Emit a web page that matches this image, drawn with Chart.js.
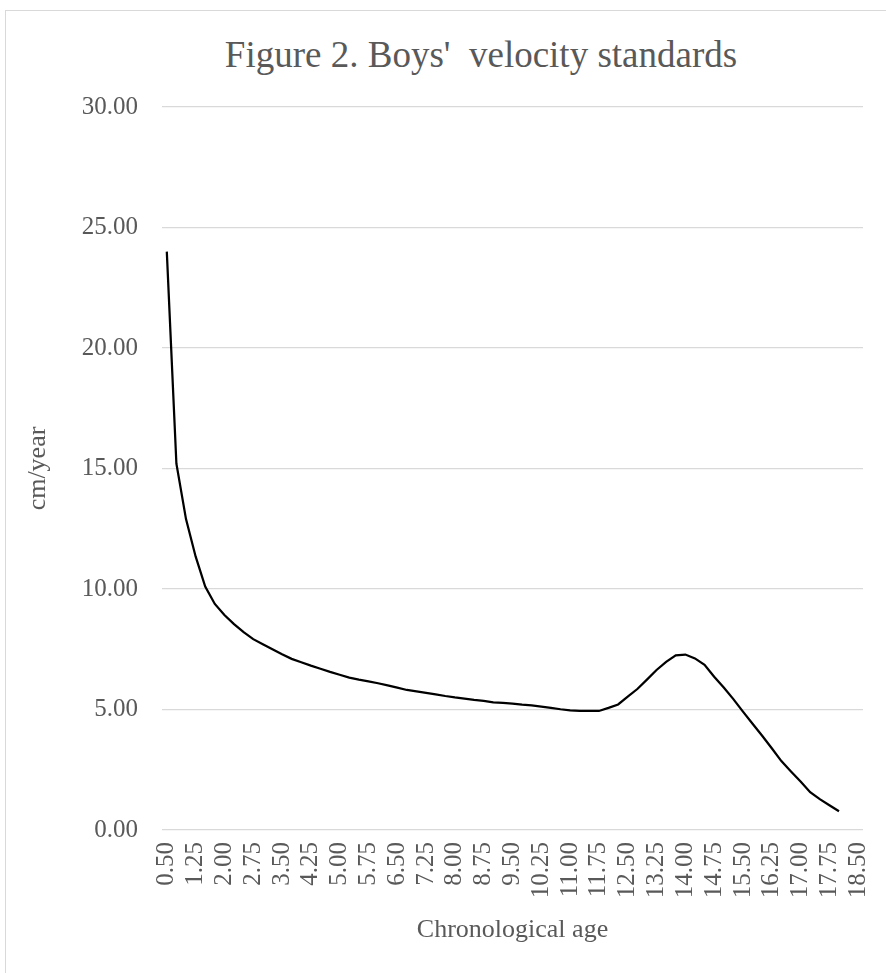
<!DOCTYPE html>
<html>
<head>
<meta charset="utf-8">
<title>Figure 2. Boys' velocity standards</title>
<script src="https://cdn.jsdelivr.net/npm/chart.js@4.4.1/dist/chart.umd.min.js"></script>
<style>
  html, body { margin: 0; padding: 0; background: #fff; }
  #wrap { position: relative; width: 886px; height: 973px; overflow: hidden; }
  #frame { position: absolute; left: 5px; top: 10px; width: 920px; height: 1000px;
           border: 1px solid #d9d9d9; box-sizing: border-box; }
  #chartTitle { position: absolute; left: 0; top: 33px; width: 962px; text-align: center;
                font-family: 'Liberation Serif', 'Times New Roman', serif; font-size: 37px;
                line-height: 1.2; color: #595959; white-space: pre; }
  #velocityChart { position: absolute; left: 0; top: 0; }
</style>
</head>
<body>
<div id="wrap">
  <div id="frame"></div>
  <div id="chartTitle">Figure 2. Boys'  velocity standards</div>
  <canvas id="velocityChart" width="886" height="973"></canvas>
</div>
<script>
// Chronological age categories (years)
var ages = [
  '0.50', '0.75', '1.00', '1.25', '1.50', '1.75', '2.00', '2.25', '2.50', '2.75',
  '3.00', '3.25', '3.50', '3.75', '4.00', '4.25', '4.50', '4.75', '5.00', '5.25',
  '5.50', '5.75', '6.00', '6.25', '6.50', '6.75', '7.00', '7.25', '7.50', '7.75',
  '8.00', '8.25', '8.50', '8.75', '9.00', '9.25', '9.50', '9.75', '10.00', '10.25',
  '10.50', '10.75', '11.00', '11.25', '11.50', '11.75', '12.00', '12.25', '12.50', '12.75',
  '13.00', '13.25', '13.50', '13.75', '14.00', '14.25', '14.50', '14.75', '15.00', '15.25',
  '15.50', '15.75', '16.00', '16.25', '16.50', '16.75', '17.00', '17.25', '17.50', '17.75',
  '18.00', '18.25', '18.50'
];

// Height velocity, cm/year (0.50 to 18.00)
var velocity = [
  24.0, 15.2, 12.9, 11.35, 10.1, 9.38, 8.92, 8.54, 8.21, 7.92,
  7.71, 7.50, 7.29, 7.10, 6.96, 6.82, 6.69, 6.56, 6.44, 6.32,
  6.24, 6.17, 6.09, 6.00, 5.91, 5.81, 5.75, 5.69, 5.63, 5.56,
  5.50, 5.45, 5.40, 5.36, 5.30, 5.27, 5.24, 5.20, 5.17, 5.12,
  5.07, 5.01, 4.96, 4.94, 4.94, 4.94, 5.07, 5.21, 5.53, 5.85,
  6.24, 6.64, 6.98, 7.25, 7.28, 7.12, 6.85, 6.36, 5.91, 5.43,
  4.91, 4.41, 3.91, 3.39, 2.86, 2.43, 2.01, 1.57, 1.28, 1.03,
  0.78
];

var yTicks = [0, 5, 10, 15, 20, 25, 30];

(function () {
  'use strict';

  var serif = "'Liberation Serif', 'Times New Roman', serif";
  var textGray = '#595959';

  new Chart(document.getElementById('velocityChart'), {
    type: 'line',
    data: {
      labels: ages,
      datasets: [{
        label: 'Boys velocity',
        data: velocity,
        borderColor: '#000000',
        borderWidth: 2.25,
        pointRadius: 0,
        pointHoverRadius: 0,
        fill: false,
        tension: 0
      }]
    },
    options: {
      responsive: false,
      animation: false,
      layout: {
        padding: { left: 0, right: 23, top: 107, bottom: 0 }
      },
      plugins: {
        legend: { display: false },
        tooltip: { enabled: false },
        title: { display: false }
      },
      scales: {
        x: {
          offset: true,
          grid: { display: false },
          border: { display: false },
          ticks: {
            autoSkip: false,
            maxRotation: 90,
            minRotation: 90,
            padding: 4,
            color: textGray,
            font: { family: serif, size: 25 },
            callback: function (value, index) {
              return index % 3 === 0 ? ages[index] : '';
            }
          },
          title: {
            display: true,
            text: 'Chronological age',
            color: textGray,
            font: { family: serif, size: 26 },
            padding: { top: 0, bottom: 27 }
          },
          afterFit: function (scale) {
            scale.height = 143;
            scale.paddingLeft = 0;
            scale.paddingRight = 0;
          }
        },
        y: {
          min: 0,
          max: 30,
          afterBuildTicks: function (scale) {
            scale.ticks = yTicks.map(function (v) { return { value: v }; });
          },
          grid: { color: '#d9d9d9', lineWidth: 1.3, drawTicks: false },
          border: { display: false },
          ticks: {
            padding: 24,
            color: textGray,
            font: { family: serif, size: 25 },
            callback: function (value) { return Number(value).toFixed(2); }
          },
          title: {
            display: true,
            text: 'cm/year',
            color: textGray,
            font: { family: serif, size: 26 },
            padding: { top: 23, bottom: 0 }
          },
          afterFit: function (scale) { scale.width = 162; }
        }
      }
    }
  });
})();
</script>
</body>
</html>
